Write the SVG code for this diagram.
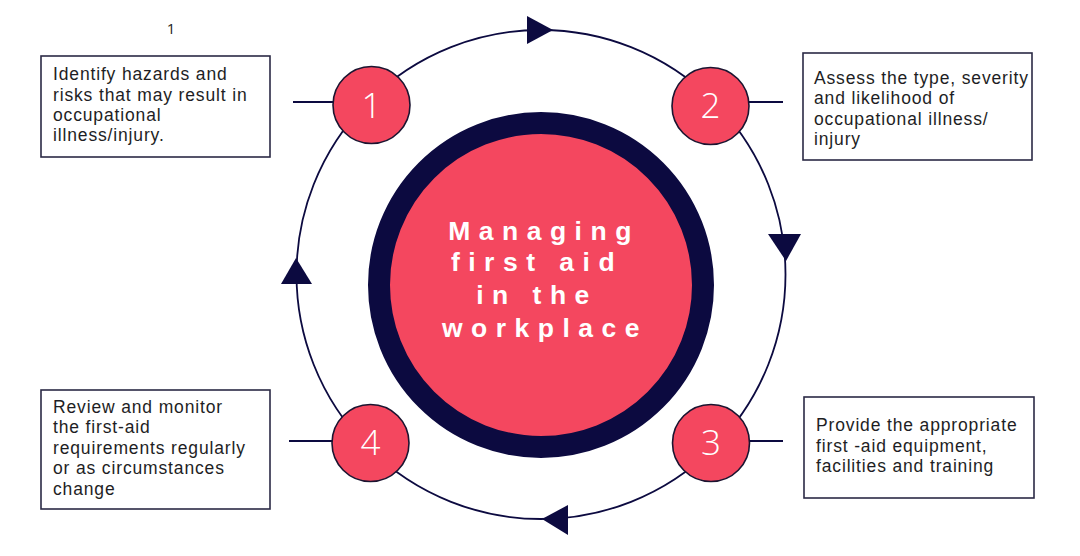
<svg xmlns="http://www.w3.org/2000/svg" width="1080" height="556" viewBox="0 0 1080 556">
<style>
.box{fill:#fff;stroke:#2b2a45;stroke-width:1.6}
.bt{font-family:"Liberation Sans",Arial,sans-serif;font-size:17.5px;letter-spacing:0.85px;fill:#1e1e24}
.num{fill:#f4475f;stroke:#1b1430;stroke-width:1.6}
.nt{font-family:"Open Sans","Liberation Sans",sans-serif;font-size:35px;font-weight:300;fill:#fff;text-anchor:middle}
.ct{font-family:"Liberation Sans",Arial,sans-serif;font-size:26.5px;font-weight:700;fill:#fff;text-anchor:middle;letter-spacing:8.5px}
.ln{stroke:#0c0a40;stroke-width:1.8;fill:none}
.ah{fill:#0c0a40}
</style>
<rect width="1080" height="556" fill="#fff"/>
<text x="171" y="34" font-family="Open Sans, Liberation Sans, sans-serif" font-size="15" fill="#1e1e24" text-anchor="middle">1</text>
<g id="connectors">
<circle class="ln" cx="541" cy="274.5" r="244.5"/>
<line class="ln" x1="293" y1="102" x2="334" y2="102"/>
<line class="ln" x1="748" y1="102" x2="783" y2="102"/>
<line class="ln" x1="749" y1="441" x2="783" y2="441"/>
<line class="ln" x1="289" y1="441" x2="333" y2="441"/>
<polygon class="ah" points="527,16 553,30 527,44"/>
<polygon class="ah" points="768,234 801,234 786,261"/>
<polygon class="ah" points="568,505 568,535 542,519"/>
<polygon class="ah" points="281,284 312,284 296,258"/>
</g>
<g id="center">
<circle cx="541" cy="285" r="162" fill="#f4475f" stroke="#0c0a40" stroke-width="22"/>
<text class="ct" x="544" y="240">Managing</text>
<text class="ct" x="537" y="271">first aid</text>
<text class="ct" x="537" y="304">in the</text>
<text class="ct" x="545" y="337">workplace</text>
</g>
<g id="step1">
<circle class="num" cx="371.5" cy="105" r="38.5"/>
<text class="nt" x="371.5" y="118">1</text>
</g>
<g id="step2">
<circle class="num" cx="710.5" cy="106" r="38.5"/>
<text class="nt" x="710.5" y="118">2</text>
</g>
<g id="step3">
<circle class="num" cx="711" cy="443" r="38.5"/>
<text class="nt" x="711" y="455">3</text>
</g>
<g id="step4">
<circle class="num" cx="370.5" cy="443" r="38.5"/>
<text class="nt" x="370.5" y="455">4</text>
</g>
<g id="box1">
<rect class="box" x="41" y="56" width="229" height="101"/>
<text class="bt" x="53" y="80">Identify hazards and</text>
<text class="bt" x="53" y="101">risks that may result in</text>
<text class="bt" x="53" y="121">occupational</text>
<text class="bt" x="53" y="141">illness/injury.</text>
</g>
<g id="box2">
<rect class="box" x="803" y="53" width="229" height="107"/>
<text class="bt" x="814" y="84">Assess the type, severity</text>
<text class="bt" x="814" y="104">and likelihood of</text>
<text class="bt" x="814" y="125">occupational illness/</text>
<text class="bt" x="814" y="145">injury</text>
</g>
<g id="box3">
<rect class="box" x="804" y="397" width="230" height="101"/>
<text class="bt" x="816" y="431">Provide the appropriate</text>
<text class="bt" x="816" y="452">first -aid equipment,</text>
<text class="bt" x="816" y="472">facilities and training</text>
</g>
<g id="box4">
<rect class="box" x="41" y="390" width="229" height="119"/>
<text class="bt" x="53" y="413">Review and monitor</text>
<text class="bt" x="53" y="433">the first-aid</text>
<text class="bt" x="53" y="454">requirements regularly</text>
<text class="bt" x="53" y="474">or as circumstances</text>
<text class="bt" x="53" y="495">change</text>
</g>
</svg>
